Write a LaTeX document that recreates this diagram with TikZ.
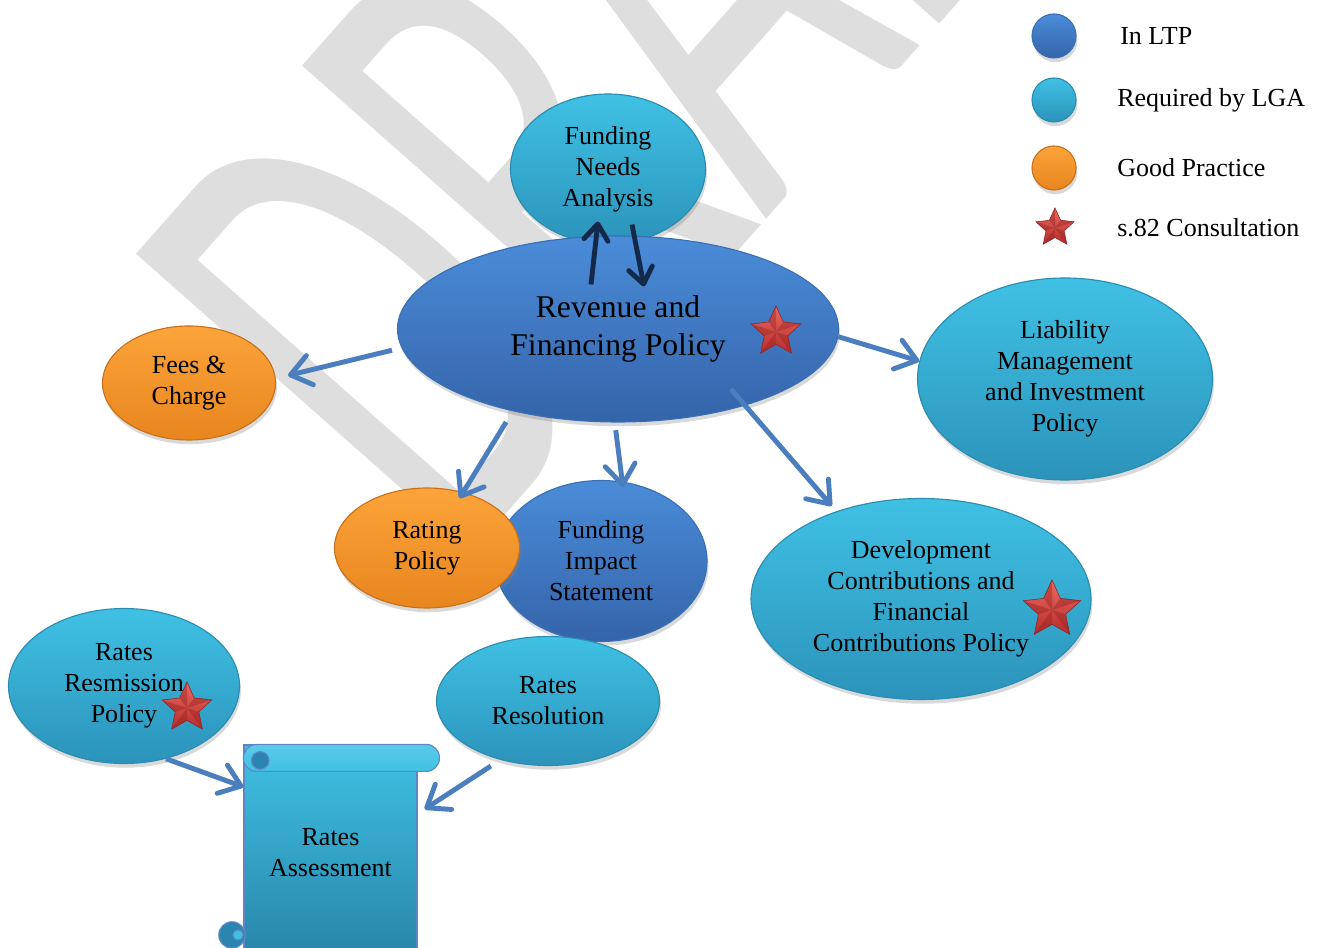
\documentclass[tikz,border=0pt]{standalone}
\usepackage{fontspec}
\setmainfont{Liberation Serif}
\newfontfamily\wmfont{Carlito}
\usepackage{tikz}
\usetikzlibrary{shapes.geometric, arrows.meta, positioning, calc, shadows}
\definecolor{ltptop}{HTML}{4B8CD8}
\definecolor{ltpbot}{HTML}{3464AA}
\definecolor{ltpline}{HTML}{3A6FB5}
\definecolor{lgatop}{HTML}{3FC1E4}
\definecolor{lgabot}{HTML}{2C93BA}
\definecolor{lgaline}{HTML}{2B8CB2}
\definecolor{goodtop}{HTML}{FCA43A}
\definecolor{goodbot}{HTML}{E8851E}
\definecolor{goodline}{HTML}{C8701A}
\definecolor{arrowblue}{HTML}{4A7EBE}
\definecolor{arrownavy}{HTML}{14294A}
\definecolor{startop}{HTML}{EC6A60}
\definecolor{starbot}{HTML}{B52C2C}
\definecolor{wmgray}{HTML}{DEDEDE}
\definecolor{scrollline}{HTML}{5F86C4}
\definecolor{scrolldark}{HTML}{2A86AE}

\begin{document}
\begin{tikzpicture}[
    bubble/.style={ellipse, inner sep=0pt, align=center, line width=0.8pt,
                   font=\fontsize{18.5}{22}\selectfont,
                   drop shadow={opacity=0.3, shadow xshift=1pt, shadow yshift=-3pt}},
    ltp/.style={bubble, draw=ltpline, top color=ltptop, bottom color=ltpbot},
    lga/.style={bubble, draw=lgaline, top color=lgatop, bottom color=lgabot},
    good/.style={bubble, draw=goodline, top color=goodtop, bottom color=goodbot},
    consult/.style={star, star points=5, star point ratio=2.1, inner sep=0pt,
                    minimum size=#1, draw=starbot!80!black, line width=0.4pt,
                    top color=startop, bottom color=starbot},
    keyball/.style={circle, minimum size=1.1cm},
    legendtext/.style={font=\fontsize{18.5}{22}\selectfont, inner sep=0pt},
    scrollbody/.style={rectangle, draw=scrollline, line width=0.8pt,
                       top color=lgatop, bottom color=lgabot!90!black,
                       minimum width=4.325cm, minimum height=5.375cm,
                       align=center, font=\fontsize{18.5}{22}\selectfont},
    watermark/.style={font=\wmfont\fontsize{498}{498}\selectfont, text=wmgray, inner sep=0pt},
    arrow/.style={-{Straight Barb[length=5mm, width=7.5mm, round]}, line width=3.5pt,
                  color=arrowblue},
    navyarrow/.style={-{Straight Barb[length=4mm, width=6mm, round]}, line width=3.5pt,
                      color=arrownavy}
]
\useasboundingbox (0,0) rectangle (32.975,23.675);
\clip (0,0) rectangle (32.975,23.675);

% watermark
\node[watermark, anchor=base west, rotate=48.5, xscale=0.58] (draft) at (11.35,9.35) {DRAFT};

% legend
\node[ltp, keyball]  (keyltp)  at (26.35,22.775) {};
\node[lga, keyball]  (keylga)  at (26.35,21.175) {};
\node[good, keyball] (keygood) at (26.35,19.475) {};
\node[consult=1.0cm] (keystar) at (26.375,17.975) {};
\node[legendtext, right=1.65cm of keyltp.center]  (txtltp)  {In LTP};
\node[legendtext, right=1.575cm of keylga.center]  (txtlga)  {Required by LGA};
\node[legendtext, right=1.575cm of keygood.center] (txtgood) {Good Practice};
\node[legendtext, right=1.55cm of keystar.center] (txtstar) {s.82 Consultation};

% policies
\node[lga, minimum width=4.875cm, minimum height=3.75cm] (fna) at (15.2,19.45)
    {Funding\\Needs\\Analysis};
\node[ltp, minimum width=11.025cm, minimum height=4.65cm,
      font=\fontsize{22.5}{26.5}\selectfont] (rfp) at (15.45,15.45)
    {Revenue and\\Financing Policy};
\node[consult=1.3cm] (rfpstar) at (19.4,15.375) {};

\node[good, minimum width=4.325cm, minimum height=2.85cm] (fees) at (4.725,14.1)
    {Fees \&\\Charge};
\node[lga, minimum width=7.375cm, minimum height=5.05cm] (liab) at (26.625,14.2)
    {Liability\\Management\\and Investment\\Policy};
\node[ltp, minimum width=5.3cm, minimum height=4.025cm] (fis) at (15.025,9.65)
    {Funding\\Impact\\Statement};
\node[good, minimum width=4.625cm, minimum height=3.0cm] (rating) at (10.675,9.975)
    {Rating\\Policy};
\node[lga, minimum width=8.5cm, minimum height=5.025cm] (dev) at (23.025,8.7)
    {Development\\Contributions and\\Financial\\Contributions Policy};
\node[consult=1.5cm] (devstar) at (26.3,8.425) {};
\node[lga, minimum width=5.775cm, minimum height=3.875cm] (resm) at (3.1,6.525)
    {Rates\\Resmission\\Policy};
\node[consult=1.3cm] (resmstar) at (4.675,5.975) {};
\node[lga, minimum width=5.575cm, minimum height=3.225cm] (resol) at (13.7,6.15)
    {Rates\\Resolution};

% bevel on the stars
\foreach \s in {keystar, rfpstar, devstar, resmstar}
  \foreach \i in {1,...,5}
    \fill[starbot!85!black, opacity=0.45] (\s.center) -- (\s.outer point \i) -- (\s.inner point \i) -- cycle;

% scroll
\node[scrollbody] (assess) at (8.2625,2.3625) {Rates\\Assessment};
\draw[scrollline, line width=0.8pt, top color=lgatop!85!white, bottom color=lgatop,
      rounded corners=0.33cm] (assess.north west) rectangle ++(4.9,-0.675);
\draw[scrollline, line width=0.8pt, fill=scrolldark] ($(assess.north west)+(0.42,-0.4)$) circle (0.22);
\draw[scrollline, line width=0.8pt, fill=scrolldark] (5.8,0.3) circle (0.33);
\draw[scrollline, line width=0.8pt, fill=lgatop] (5.95,0.3) circle (0.13);

% connectors
\draw[navyarrow] ([shift={(-0.675,-1.225)}]rfp.north) -- ([shift={(-0.25,0.575)}]fna.south);
\draw[navyarrow] ([shift={(0.6,0.5)}]fna.south) -- ([shift={(0.65,-1.275)}]rfp.north);
\draw[arrow, shorten <=7pt, shorten >=9pt] (rfp.185) -- (fees.3);
\draw[arrow] (rfp.-2) -- (liab.173);
\draw[arrow, shorten <=9pt, shorten >=-5pt] (rfp.218) -- (rating.57);
\draw[arrow, shorten <=5.5pt, shorten >=-4pt] (rfp.268) -- (fis.75);
\draw[arrow, shorten >=5pt] ($(rfp.center)!0.82!(rfp.-28)$) -- (dev.134);
\draw[arrow] (resm.-60) -- (assess.143);
\draw[arrow, shorten <=8pt, shorten >=6pt] (resol.231) -- (assess.24);
\end{tikzpicture}
\end{document}
